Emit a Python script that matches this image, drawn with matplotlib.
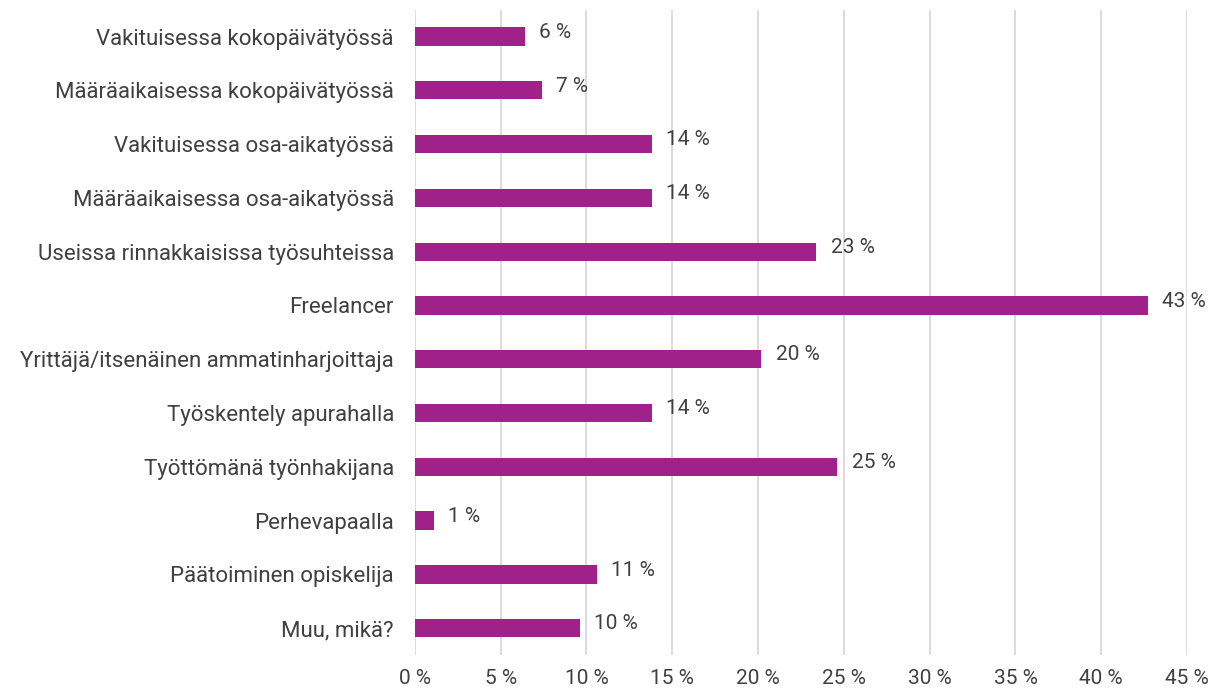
import numpy as np
import matplotlib.pyplot as plt
from matplotlib.ticker import FuncFormatter

plt.rcParams['font.family'] = ['Roboto', 'DejaVu Sans']

categories = [
    "Vakituisessa kokopäivätyössä",
    "Määräaikaisessa kokopäivätyössä",
    "Vakituisessa osa-aikatyössä",
    "Määräaikaisessa osa-aikatyössä",
    "Useissa rinnakkaisissa työsuhteissa",
    "Freelancer",
    "Yrittäjä/itsenäinen ammatinharjoittaja",
    "Työskentely apurahalla",
    "Työttömänä työnhakijana",
    "Perhevapaalla",
    "Päätoiminen opiskelija",
    "Muu, mikä?",
]
values = [6.4, 7.4, 13.8, 13.8, 23.4, 42.7, 20.2, 13.8, 24.6, 1.1, 10.6, 9.6]
labels = ["6 %", "7 %", "14 %", "14 %", "23 %", "43 %", "20 %", "14 %",
          "25 %", "1 %", "11 %", "10 %"]

bar_color = "#A0218A"
text_color = "#404040"

fig = plt.figure(figsize=(12.2, 6.91), dpi=100)
ax = fig.add_axes([0.340, 0.052, 0.633, 0.934])

y = np.arange(len(categories))
ax.barh(y, values, height=0.34, color=bar_color, zorder=3)

# value labels to the right of each bar
for yi, v, lab in zip(y, values, labels):
    ax.text(v + 0.85, yi - 0.08, lab, va="center", ha="left",
            fontsize=15, color=text_color)

ax.set_xlim(0, 45)
ax.set_ylim(len(categories) - 0.5, -0.5)
ax.set_xticks(np.arange(0, 46, 5))
ax.xaxis.set_major_formatter(FuncFormatter(lambda x, pos: f"{int(x)} %"))
ax.set_yticks(y)
ax.set_yticklabels(categories)

ax.grid(axis="x", color="#D9D9D9", linewidth=1.3, zorder=0)
for s in ax.spines.values():
    s.set_visible(False)
ax.tick_params(axis="both", length=0, labelsize=16, colors=text_color)
ax.tick_params(axis="x", labelsize=15, pad=10)
ax.tick_params(axis="y", pad=15)

fig.savefig("out.png", dpi=100)
